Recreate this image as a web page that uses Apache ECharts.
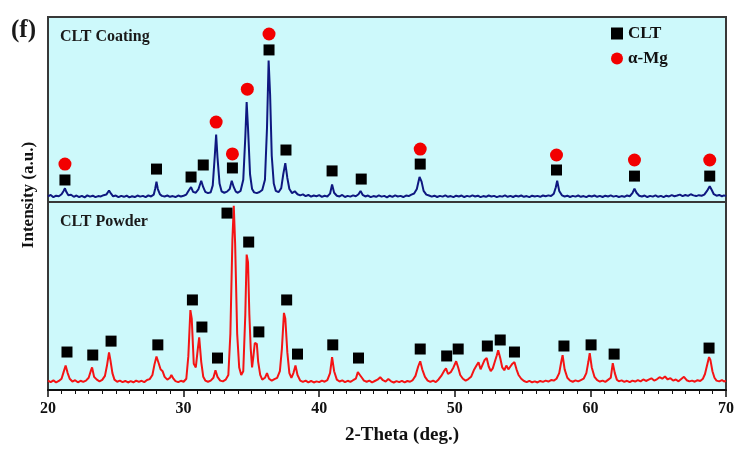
<!DOCTYPE html>
<html><head><meta charset="utf-8">
<script src="https://cdn.jsdelivr.net/npm/echarts@6/dist/echarts.min.js"></script>
<style>html,body{margin:0;padding:0;background:#fff}#c{width:743px;height:459px}</style>
</head><body><div id="c"></div>
<script>
// ---- DATA ----
const xTicks = [20, 30, 40, 50, 60, 70];
const coating = [[20.0,3.0],[20.2,3.8],[20.4,2.6],[20.6,3.4],[20.8,3.1],[21.0,4.2],[21.15,6.0],[21.25,7.4],[21.35,5.5],[21.5,3.6],[21.7,3.9],[21.9,2.8],[22.1,3.5],[22.3,2.7],[22.5,3.3],[22.7,2.5],[22.9,3.6],[23.1,2.9],[23.3,3.4],[23.5,2.6],[23.7,3.2],[23.9,3.0],[24.1,3.7],[24.3,4.0],[24.5,6.2],[24.65,4.5],[24.8,3.1],[25.0,3.5],[25.2,2.6],[25.4,3.3],[25.6,2.8],[25.8,3.4],[26.0,2.5],[26.2,3.1],[26.4,2.7],[26.6,3.5],[26.8,2.9],[27.0,3.3],[27.2,2.6],[27.4,3.6],[27.6,3.0],[27.8,4.0],[27.9,7.0],[28.0,11.0],[28.1,7.0],[28.25,4.2],[28.4,3.3],[28.6,3.0],[28.8,3.5],[29.0,2.8],[29.2,3.2],[29.4,2.7],[29.6,3.5],[29.8,3.0],[30.0,3.4],[30.2,4.0],[30.4,6.5],[30.55,8.0],[30.7,5.5],[30.9,5.0],[31.1,7.0],[31.3,11.5],[31.45,8.0],[31.6,5.5],[31.8,4.8],[32.0,5.3],[32.15,9.0],[32.3,25.0],[32.4,36.5],[32.5,24.0],[32.65,10.0],[32.8,5.8],[33.0,5.0],[33.2,5.6],[33.4,7.0],[33.55,11.5],[33.7,8.0],[33.85,5.6],[34.0,5.0],[34.2,6.0],[34.4,12.0],[34.55,35.0],[34.65,54.0],[34.75,40.0],[34.9,15.0],[35.05,7.0],[35.2,5.2],[35.4,4.8],[35.6,5.4],[35.8,6.5],[36.0,12.0],[36.15,40.0],[36.27,76.5],[36.38,58.0],[36.5,25.0],[36.65,10.0],[36.8,6.0],[37.0,5.3],[37.2,7.5],[37.35,15.0],[37.5,21.0],[37.65,13.0],[37.8,7.0],[38.0,4.8],[38.2,5.8],[38.4,4.2],[38.6,3.6],[38.8,4.1],[39.0,3.2],[39.2,3.8],[39.4,2.9],[39.6,3.5],[39.8,3.1],[40.0,3.7],[40.2,2.8],[40.4,3.4],[40.6,3.0],[40.8,4.5],[40.95,9.5],[41.1,5.0],[41.3,3.4],[41.5,3.0],[41.7,3.8],[41.9,2.7],[42.1,3.3],[42.3,2.9],[42.5,3.6],[42.7,3.1],[42.9,4.2],[43.05,6.0],[43.2,3.9],[43.4,3.0],[43.6,3.5],[43.8,2.6],[44.0,3.2],[44.2,2.8],[44.4,3.6],[44.6,2.9],[44.8,3.3],[45.0,2.5],[45.2,3.4],[45.4,2.8],[45.6,3.6],[45.8,3.0],[46.0,3.3],[46.2,2.7],[46.4,3.5],[46.6,3.2],[46.8,4.0],[47.0,4.6],[47.2,7.0],[47.4,13.5],[47.55,11.0],[47.7,6.0],[47.9,4.0],[48.1,3.5],[48.3,2.9],[48.5,3.4],[48.7,2.7],[48.9,3.3],[49.1,2.9],[49.3,3.6],[49.5,2.8],[49.7,3.2],[49.9,2.6],[50.1,3.4],[50.3,3.0],[50.5,3.5],[50.7,2.7],[50.9,3.3],[51.1,2.9],[51.3,3.6],[51.5,3.0],[51.7,3.4],[51.9,2.6],[52.1,3.2],[52.3,2.8],[52.5,3.5],[52.7,3.0],[52.9,3.3],[53.1,2.6],[53.3,3.2],[53.5,2.9],[53.7,3.6],[53.9,2.8],[54.1,3.3],[54.3,2.7],[54.5,3.4],[54.7,3.0],[54.9,3.5],[55.1,2.8],[55.3,3.2],[55.5,2.6],[55.7,3.4],[55.9,3.0],[56.1,3.3],[56.3,2.8],[56.5,3.5],[56.7,3.1],[56.9,3.6],[57.1,3.2],[57.3,4.5],[57.45,8.0],[57.55,11.5],[57.7,6.0],[57.9,3.6],[58.1,3.0],[58.3,3.4],[58.5,2.7],[58.7,3.3],[58.9,2.9],[59.1,3.5],[59.3,2.8],[59.5,3.2],[59.7,2.6],[59.9,3.4],[60.1,3.0],[60.3,3.5],[60.5,2.8],[60.7,3.3],[60.9,2.7],[61.1,3.4],[61.3,3.0],[61.5,3.6],[61.7,2.9],[61.9,3.3],[62.1,2.7],[62.3,3.2],[62.5,2.8],[62.7,3.5],[62.9,3.1],[63.1,4.8],[63.25,7.2],[63.4,5.0],[63.6,3.4],[63.8,3.0],[64.0,3.5],[64.2,2.7],[64.4,3.3],[64.6,2.9],[64.8,3.6],[65.0,2.8],[65.2,3.3],[65.4,2.6],[65.6,3.4],[65.8,3.0],[66.0,3.7],[66.2,3.1],[66.4,3.5],[66.6,4.0],[66.8,3.2],[67.0,3.8],[67.2,3.3],[67.4,4.2],[67.6,3.6],[67.8,3.2],[68.0,3.7],[68.2,3.4],[68.4,4.0],[68.6,6.0],[68.8,8.5],[68.95,6.5],[69.1,4.2],[69.3,3.4],[69.5,3.8],[69.7,3.1],[69.85,3.6],[70.0,3.2]];
const powder = [[20.0,5.0],[20.2,4.2],[20.4,5.1],[20.6,4.0],[20.8,4.8],[21.0,6.0],[21.15,9.5],[21.3,13.0],[21.45,9.0],[21.6,6.0],[21.8,4.5],[22.0,5.2],[22.2,4.1],[22.4,4.9],[22.6,4.3],[22.8,5.0],[23.0,6.5],[23.15,10.0],[23.25,12.0],[23.4,7.0],[23.6,5.5],[23.8,4.6],[24.0,5.4],[24.2,7.5],[24.35,13.0],[24.5,20.0],[24.6,16.0],[24.75,9.0],[24.9,5.5],[25.1,4.4],[25.3,5.0],[25.5,4.2],[25.7,4.8],[25.9,4.0],[26.1,4.7],[26.3,4.1],[26.5,5.0],[26.7,4.3],[26.9,4.9],[27.1,4.2],[27.3,5.3],[27.5,5.8],[27.7,8.0],[27.85,13.5],[28.0,17.8],[28.15,14.5],[28.3,11.0],[28.45,10.0],[28.6,7.0],[28.8,5.5],[29.0,6.5],[29.1,8.0],[29.25,6.0],[29.4,4.7],[29.6,4.2],[29.8,4.9],[30.0,4.4],[30.2,6.0],[30.35,18.0],[30.5,42.5],[30.6,38.0],[30.75,14.0],[30.9,12.0],[31.05,22.0],[31.15,28.0],[31.3,15.0],[31.45,7.0],[31.6,5.0],[31.8,4.4],[32.0,5.0],[32.2,6.5],[32.35,10.5],[32.5,7.0],[32.7,5.0],[32.9,4.6],[33.1,5.5],[33.3,8.0],[33.45,30.0],[33.6,80.0],[33.7,98.0],[33.8,78.0],[33.95,30.0],[34.1,12.0],[34.25,8.0],[34.4,10.0],[34.55,40.0],[34.65,72.0],[34.75,68.0],[34.85,40.0],[34.95,22.0],[35.05,12.0],[35.15,18.0],[35.25,25.0],[35.4,24.5],[35.5,15.0],[35.65,8.0],[35.8,5.5],[36.0,6.5],[36.15,9.0],[36.3,6.0],[36.5,5.0],[36.7,5.8],[36.9,6.5],[37.1,10.0],[37.25,22.0],[37.4,41.0],[37.5,38.0],[37.65,20.0],[37.8,9.0],[37.95,6.5],[38.1,9.0],[38.25,13.0],[38.4,8.0],[38.6,5.0],[38.8,4.3],[39.0,5.0],[39.2,4.1],[39.4,4.8],[39.6,4.0],[39.8,4.6],[40.0,4.2],[40.2,5.0],[40.4,4.4],[40.6,5.2],[40.8,9.0],[40.95,17.5],[41.1,10.0],[41.3,5.5],[41.5,4.5],[41.7,5.1],[41.9,4.2],[42.1,4.9],[42.3,4.3],[42.5,5.2],[42.7,6.0],[42.85,9.5],[43.0,8.0],[43.15,6.5],[43.3,5.0],[43.5,4.4],[43.7,5.0],[43.9,4.1],[44.1,4.8],[44.3,5.5],[44.5,6.8],[44.7,5.2],[44.9,4.5],[45.1,5.8],[45.3,4.6],[45.5,4.0],[45.7,4.7],[45.9,4.2],[46.1,4.9],[46.3,4.1],[46.5,4.8],[46.7,4.4],[46.9,5.3],[47.1,7.5],[47.3,12.5],[47.45,15.3],[47.6,11.0],[47.8,7.0],[48.0,5.0],[48.2,4.3],[48.4,5.0],[48.6,4.2],[48.8,5.6],[49.0,7.5],[49.2,10.0],[49.35,11.5],[49.5,8.5],[49.7,9.5],[49.9,12.0],[50.1,15.3],[50.25,12.0],[50.4,8.0],[50.6,6.0],[50.8,5.0],[51.0,5.8],[51.2,7.0],[51.4,10.5],[51.6,13.0],[51.75,14.8],[51.9,11.0],[52.05,13.5],[52.2,16.0],[52.35,17.0],[52.5,12.5],[52.65,10.0],[52.8,11.5],[52.95,15.0],[53.1,18.5],[53.2,21.2],[53.35,17.0],[53.5,12.0],[53.65,10.5],[53.8,13.0],[53.95,11.0],[54.1,12.5],[54.25,14.0],[54.4,14.8],[54.55,11.0],[54.7,8.0],[54.9,6.0],[55.1,4.8],[55.3,4.2],[55.5,4.9],[55.7,4.1],[55.9,4.6],[56.1,4.0],[56.3,4.8],[56.5,4.3],[56.7,5.0],[56.9,4.5],[57.1,5.3],[57.3,5.0],[57.5,6.0],[57.7,9.0],[57.85,15.0],[57.95,18.5],[58.1,11.0],[58.3,6.5],[58.5,5.0],[58.7,4.4],[58.9,5.1],[59.1,4.6],[59.3,5.3],[59.5,6.0],[59.7,9.0],[59.85,15.0],[59.95,19.6],[60.1,12.0],[60.3,7.0],[60.5,5.2],[60.7,4.5],[60.9,5.0],[61.1,4.3],[61.3,5.4],[61.5,6.5],[61.65,14.3],[61.8,9.0],[61.95,5.5],[62.1,4.6],[62.3,5.1],[62.5,4.3],[62.7,4.9],[62.9,4.2],[63.1,5.0],[63.3,4.5],[63.5,5.3],[63.7,4.6],[63.9,5.6],[64.1,4.8],[64.3,5.5],[64.5,6.2],[64.7,5.0],[64.9,5.7],[65.1,6.8],[65.3,6.0],[65.5,7.2],[65.7,5.6],[65.9,6.3],[66.1,5.0],[66.3,5.6],[66.5,4.6],[66.7,5.8],[66.9,7.0],[67.1,5.2],[67.3,4.6],[67.5,5.0],[67.7,4.4],[67.9,5.2],[68.1,4.8],[68.3,6.0],[68.45,8.5],[68.6,13.0],[68.75,17.5],[68.85,16.0],[69.0,10.0],[69.15,6.5],[69.3,5.0],[69.5,4.6],[69.7,5.3],[69.85,4.5],[70.0,4.9]];
// phase markers (2θ, marker height)
const coatingCLT = [[21.25,11.9],[28.0,17.8],[30.55,13.5],[31.45,20.0],[33.6,18.4],[36.3,82.2],[37.55,28.1],[40.95,16.8],[43.1,12.4],[47.45,20.5],[57.5,17.3],[63.25,14.0],[68.8,14.0]];
const coatingMg = [[21.25,20.5],[32.4,43.2],[33.6,26.0],[34.7,61.0],[36.3,90.8],[47.45,28.6],[57.5,25.4],[63.25,22.7],[68.8,22.7]];
const powderCLT = [[21.4,20.2],[23.3,18.6],[24.65,26.0],[28.1,24.0],[30.65,47.9],[31.35,33.5],[32.5,17.0],[33.2,94.1],[34.8,78.7],[35.55,30.9],[37.6,47.9],[38.4,19.1],[41.0,24.0],[42.9,17.0],[47.45,21.8],[49.4,18.1],[50.25,21.8],[52.4,23.4],[53.35,26.6],[54.4,20.2],[58.05,23.4],[60.05,24.0],[61.75,19.1],[68.75,22.3]];
const legendNames = ['CLT', 'α-Mg'];
const panelNames = ['CLT Coating', 'CLT Powder'];

// ---- CHART ----
const serif = '"Liberation Serif", "DejaVu Serif", serif';
const bg = '#cdf9fb';
const chart = echarts.init(document.getElementById('c'), null, {renderer: 'canvas'});
const xBase = {type: 'value', min: xTicks[0], max: xTicks[xTicks.length - 1], interval: 10};
chart.setOption({
  animation: false,
  backgroundColor: '#fff',
  grid: [
    {left: 48, right: 17, top: 17, height: 185, show: true, backgroundColor: bg, borderColor: '#383838', borderWidth: 2},
    {left: 48, right: 17, top: 202, height: 188, show: true, backgroundColor: bg, borderColor: '#383838', borderWidth: 2}
  ],
  xAxis: [
    Object.assign({gridIndex: 0, axisLine: {show: false}, axisTick: {show: false}, axisLabel: {show: false}, splitLine: {show: false}}, xBase),
    Object.assign({gridIndex: 1,
      axisLine: {show: true, onZero: false, lineStyle: {color: '#111', width: 2}},
      axisTick: {show: true, inside: false, length: 7, lineStyle: {color: '#111', width: 1.5}},
      minorTick: {show: true, splitNumber: 10, length: 4, lineStyle: {color: '#111', width: 1}},
      axisLabel: {show: true, margin: 11, color: '#111', fontFamily: serif, fontWeight: 'bold', fontSize: 16},
      splitLine: {show: false}}, xBase)
  ],
  yAxis: [
    {type: 'value', gridIndex: 0, min: 0, max: 100, show: false, splitLine: {show: false}},
    {type: 'value', gridIndex: 1, min: 0, max: 100, show: false, splitLine: {show: false}}
  ],
  legend: {
    orient: 'vertical', left: 606, top: 20, itemGap: 8, itemWidth: 12, itemHeight: 12,
    data: [{name: legendNames[0], icon: 'rect'}, {name: legendNames[1], icon: 'circle'}],
    itemStyle: {opacity: 1},
    textStyle: {fontFamily: serif, fontWeight: 'bold', fontSize: 17, color: '#111'}
  },
  series: [
    {type: 'line', name: 'coating', xAxisIndex: 0, yAxisIndex: 0, data: coating, showSymbol: false, symbol: 'none',
     lineStyle: {color: '#0f1880', width: 2}, z: 2},
    {type: 'line', name: 'powder', xAxisIndex: 1, yAxisIndex: 1, data: powder, showSymbol: false, symbol: 'none',
     lineStyle: {color: '#f41414', width: 2}, z: 2},
    {type: 'scatter', name: legendNames[0], xAxisIndex: 0, yAxisIndex: 0, data: coatingCLT, symbol: 'rect', symbolSize: 11,
     itemStyle: {color: '#000', opacity: 1}, z: 3},
    {type: 'scatter', name: legendNames[1], xAxisIndex: 0, yAxisIndex: 0, data: coatingMg, symbol: 'circle', symbolSize: 13,
     itemStyle: {color: '#f20000', opacity: 1}, z: 3},
    {type: 'scatter', name: legendNames[0], xAxisIndex: 1, yAxisIndex: 1, data: powderCLT, symbol: 'rect', symbolSize: 11,
     itemStyle: {color: '#000', opacity: 1}, z: 3}
  ],
  graphic: [
    {type: 'text', left: 11, top: 18, style: {text: '(f)', fontFamily: serif, fontWeight: 'bold', fontSize: 25, fill: '#1a1a1a'}},
    {type: 'text', left: 60, top: 29, style: {text: panelNames[0], fontFamily: serif, fontWeight: 'bold', fontSize: 16, fill: '#1a1a1a'}},
    {type: 'text', left: 60, top: 214, style: {text: panelNames[1], fontFamily: serif, fontWeight: 'bold', fontSize: 16, fill: '#1a1a1a'}},
    {type: 'text', x: 29, y: 195, rotation: Math.PI / 2,
     style: {text: 'Intensity (a.u.)', fontFamily: serif, fontWeight: 'bold', fontSize: 17, fill: '#111', align: 'center', verticalAlign: 'middle'}},
    {type: 'text', x: 402, y: 435,
     style: {text: '2-Theta (deg.)', fontFamily: serif, fontWeight: 'bold', fontSize: 19, fill: '#111', align: 'center', verticalAlign: 'middle'}}
  ]
});
</script></body></html>
